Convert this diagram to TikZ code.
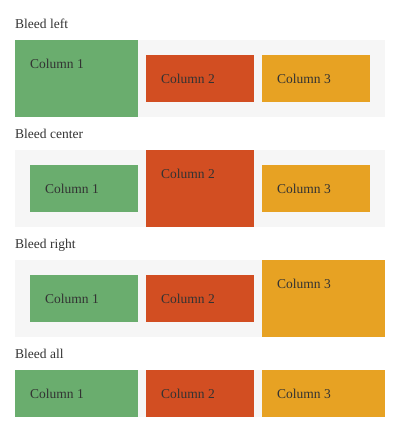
\documentclass[tikz,border=0pt]{standalone}
\usepackage{fontspec}
\setmainfont{Liberation Serif}
\definecolor{cgreen}{HTML}{6AAD6E}
\definecolor{cred}{HTML}{D24E22}
\definecolor{corange}{HTML}{E7A223}
\definecolor{cgray}{HTML}{F6F6F6}
\definecolor{ctext}{HTML}{333333}
\begin{document}
\begin{tikzpicture}[x=1pt,y=-1pt,
  txt/.style={anchor=base west,inner sep=0pt,text=ctext,font=\fontsize{13.5pt}{16pt}\selectfont},
  lbl/.style={txt}]
\useasboundingbox[fill=white] (0,0) rectangle (400,432);
% Row 1: bleed left
\node[lbl] (l1) at (15,28) {Bleed left};
\fill[cgray] (15,40) rectangle (385,117);
\fill[cgreen] (15,40) rectangle (138,117);
\fill[cred] (146,55) rectangle (254,102);
\fill[corange] (262,55) rectangle (370,102);
\node[txt] (a1) at (30,68) {Column 1};
\node[txt] (a2) at (161,83) {Column 2};
\node[txt] (a3) at (277,83) {Column 3};
% Row 2: bleed center
\node[lbl] (l2) at (15,138) {Bleed center};
\fill[cgray] (15,150) rectangle (385,227);
\fill[cgreen] (30,165) rectangle (138,212);
\fill[cred] (146,150) rectangle (254,227);
\fill[corange] (262,165) rectangle (370,212);
\node[txt] (b1) at (45,193) {Column 1};
\node[txt] (b2) at (161,178) {Column 2};
\node[txt] (b3) at (277,193) {Column 3};
% Row 3: bleed right
\node[lbl] (l3) at (15,248) {Bleed right};
\fill[cgray] (15,260) rectangle (385,337);
\fill[cgreen] (30,275) rectangle (138,322);
\fill[cred] (146,275) rectangle (254,322);
\fill[corange] (262,260) rectangle (385,337);
\node[txt] (c1) at (45,303) {Column 1};
\node[txt] (c2) at (161,303) {Column 2};
\node[txt] (c3) at (277,288) {Column 3};
% Row 4: bleed all
\node[lbl] (l4) at (15,358) {Bleed all};
\fill[cgray] (15,370) rectangle (385,417);
\fill[cgreen] (15,370) rectangle (138,417);
\fill[cred] (146,370) rectangle (254,417);
\fill[corange] (262,370) rectangle (385,417);
\node[txt] (d1) at (30,398) {Column 1};
\node[txt] (d2) at (161,398) {Column 2};
\node[txt] (d3) at (277,398) {Column 3};
\end{tikzpicture}
\end{document}
